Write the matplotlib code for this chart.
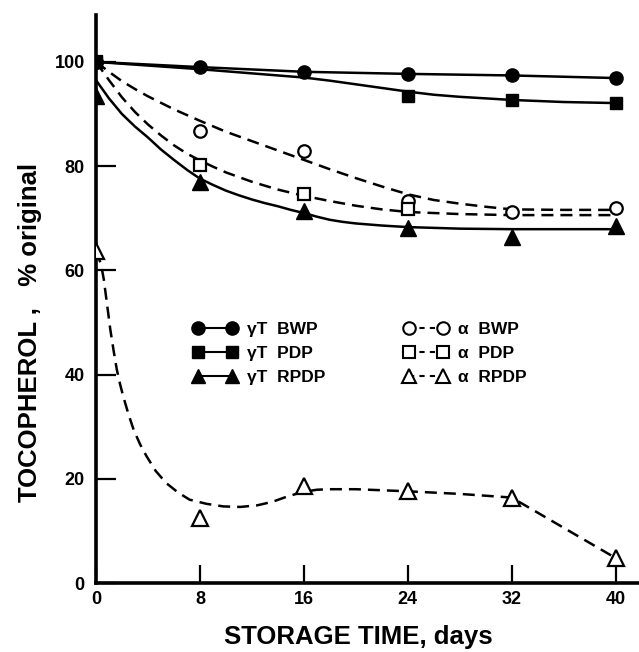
import numpy as np
import matplotlib
matplotlib.use('Agg')
import matplotlib.pyplot as plt
from matplotlib.lines import Line2D

plt.rcParams['font.family'] = ['Liberation Sans', 'DejaVu Sans']
plt.rcParams['font.weight'] = 'bold'

# measured points (storage day vs % of original tocopherol)
days = [0, 8, 16, 24, 32, 40]
gT_bwp = [100, 99.0, 98.1, 97.7, 97.4, 96.9]
gT_pdp_days = [0, 24, 32, 40]
gT_pdp = [100, 93.5, 92.6, 92.1]
gT_rpdp = [93.5, 77.0, 71.3, 68.2, 66.4, 68.6]
a_bwp = [100, 86.8, 82.9, 73.3, 71.2, 71.9]
a_pdp_days = [0, 8, 16, 24]
a_pdp = [100, 80.3, 74.6, 71.7]
a_rpdp = [63.8, 12.4, 18.6, 17.6, 16.4, 4.8]

# hand drawn fitted curves
gT_pdp_cx = [0, 4, 8, 12, 16, 18, 20, 22, 24, 26, 28, 32, 36, 40]
gT_pdp_cy = [100, 99.3, 98.6, 97.8, 97.0, 96.4, 95.7, 95.0, 94.3, 93.7, 93.3, 92.7, 92.3, 92.1]
gT_rpdp_cx = [0, 1, 2, 3, 4, 5, 6, 7, 8, 9, 10, 11, 12, 13, 14, 15, 16, 17, 18, 19, 20, 22, 24,
              28, 32, 36, 40]
gT_rpdp_cy = [96.5, 93.0, 90.0, 87.6, 85.5, 83.2, 81.2, 79.3, 77.6, 76.4, 75.3, 74.4, 73.6, 72.9,
              72.3, 71.6, 71.0, 70.3, 69.7, 69.3, 69.0, 68.6, 68.3, 68.0, 67.9, 67.9, 67.9]
a_bwp_cx = [0, 1, 2, 3, 4, 6, 8, 10, 12, 14, 16, 18, 20, 22, 24, 26, 28, 30, 32, 36, 40]
a_bwp_cy = [100, 98.1, 96.3, 94.8, 93.4, 90.9, 88.7, 86.6, 84.8, 83.0, 81.2, 79.4, 77.7, 76.1,
            74.6, 73.5, 72.8, 72.2, 71.7, 71.6, 71.6]
a_pdp_cx = [0, 1, 2, 3, 4, 5, 6, 7, 8, 9, 10, 12, 14, 16, 18, 20, 22, 24, 28, 32, 40]
a_pdp_cy = [100, 96.5, 93.2, 90.4, 88.0, 85.9, 84.0, 82.4, 81.1, 79.9, 78.8, 77.0, 75.5, 74.3,
            73.3, 72.4, 71.7, 71.2, 70.8, 70.6, 70.6]
a_rpdp_cx = [0, 0.2, 0.4, 0.6, 0.8, 1.1, 1.35, 1.6, 1.85, 2.1, 2.5, 2.9, 3.4, 3.9, 4.6, 5.4, 6.3,
             7.2, 8.5, 9.8, 11.1, 12.4, 13.6, 14.5, 15.4, 16, 17, 18, 20, 22, 24, 28, 32, 40]
a_rpdp_cy = [63.7, 62.5, 61.0, 58.3, 54.5, 48.7, 44.7, 41.0, 38.2, 35.8, 32.4, 29.4, 26.6, 24.3,
             21.5, 19.2, 17.4, 16.0, 15.2, 14.7, 14.6, 14.9, 15.6, 16.4, 17.1, 17.5, 17.9, 18.0,
             18.0, 17.8, 17.6, 17.1, 16.4, 4.8]

fig = plt.figure(figsize=(6.39, 6.52), dpi=100)
ax = fig.add_axes([0.1502, 0.1058, 0.8498, 0.8712])

lw = 1.8
dash = (4.8, 2.8)

# curves
ax.plot(days, gT_bwp, color='k', lw=lw, zorder=2)
ax.plot(gT_pdp_cx, gT_pdp_cy, color='k', lw=lw, zorder=2)
ax.plot(gT_rpdp_cx, gT_rpdp_cy, color='k', lw=lw, zorder=2)
ax.plot(a_bwp_cx, a_bwp_cy, color='k', lw=lw, dashes=dash, zorder=2)
ax.plot(a_pdp_cx, a_pdp_cy, color='k', lw=lw, dashes=dash, zorder=2)
ax.plot(a_rpdp_cx, a_rpdp_cy, color='k', lw=lw, dashes=dash, zorder=2)

# markers
ax.plot(days, a_bwp, 'o', ms=9, mfc='white', mec='k', mew=1.6, ls='none', zorder=3)
ax.plot(a_pdp_days, a_pdp, 's', ms=8.5, mfc='white', mec='k', mew=1.6, ls='none', zorder=3)
ax.plot(days, a_rpdp, '^', ms=11, mfc='white', mec='k', mew=1.6, ls='none', zorder=3)
ax.plot(days, gT_bwp, 'o', ms=9.5, color='k', ls='none', zorder=4)
ax.plot(gT_pdp_days, gT_pdp, 's', ms=8.5, color='k', ls='none', zorder=4)
ax.plot(days, gT_rpdp, '^', ms=11, color='k', ls='none', zorder=4)

# legend
handles = [
    Line2D([], [], color='k', lw=1.5, marker='o', ms=9.5),
    Line2D([], [], color='k', lw=1.5, marker='s', ms=8.5),
    Line2D([], [], color='k', lw=1.5, marker='^', ms=10),
    Line2D([], [], color='k', lw=1.5, dashes=(2.5, 2.5), marker='o', ms=9, mfc='white', mew=1.5),
    Line2D([], [], color='k', lw=1.5, dashes=(2.5, 2.5), marker='s', ms=8.5, mfc='white', mew=1.5),
    Line2D([], [], color='k', lw=1.5, dashes=(2.5, 2.5), marker='^', ms=10, mfc='white', mew=1.5),
]
labels = ['\u03b3T  BWP', '\u03b3T  PDP', '\u03b3T  RPDP', '\u03b1  BWP', '\u03b1  PDP', '\u03b1  RPDP']
ax.legend(handles, labels, ncol=2, frameon=False, loc='upper left',
          bbox_to_anchor=(0.1786, 0.4595), borderpad=0, borderaxespad=0,
          handlelength=2.56, handletextpad=0.58, labelspacing=0.5, columnspacing=4.5,
          numpoints=2, prop={'size': 12.5, 'weight': 'bold'})

ax.set_xlim(0, 41.8)
ax.set_ylim(0, 109)
ax.set_xticks(days)
ax.set_yticks([0, 20, 40, 60, 80, 100])

for s in ['top', 'right']:
    ax.spines[s].set_visible(False)
for s in ['left', 'bottom']:
    ax.spines[s].set_linewidth(2.6)

ax.tick_params(axis='x', direction='in', length=13, width=1.6, pad=6, labelsize=13)
ax.tick_params(axis='y', direction='in', length=14.5, width=1.6, pad=8, labelsize=13)

ax.set_xlabel('STORAGE TIME, days', fontsize=18.5, fontweight='bold')
ax.set_ylabel('TOCOPHEROL ,   % original', fontsize=18.5, fontweight='bold')
ax.xaxis.set_label_coords(0.483, -0.095)
ax.xaxis.label.set_va('center')
ax.yaxis.set_label_coords(-0.1215, 0.442)
ax.yaxis.label.set_va('center')

fig.savefig('out.png', dpi=100)
